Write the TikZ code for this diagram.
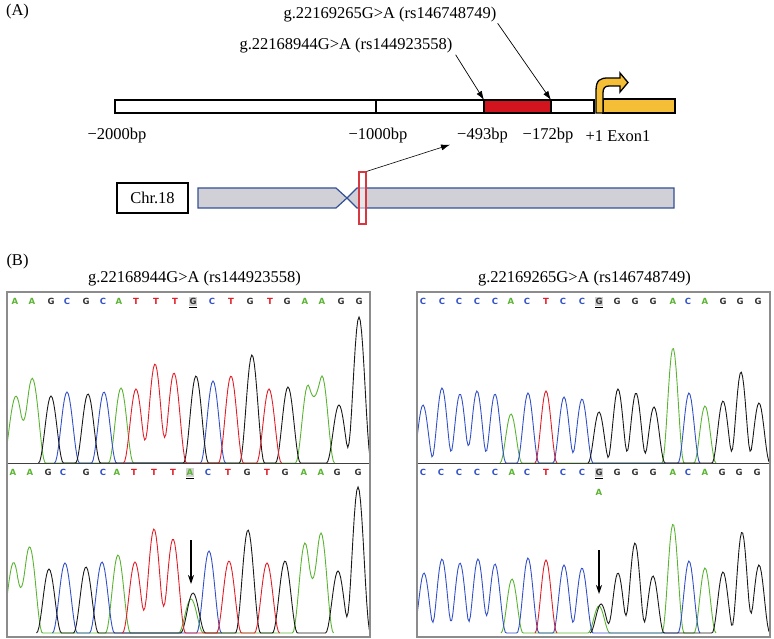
\documentclass[tikz,border=0pt]{standalone}
\usepackage{fontspec}
\setmainfont{Liberation Serif}
\newfontfamily\basefont{DejaVu Sans}
\usetikzlibrary{arrows.meta}

\definecolor{traceA}{RGB}{90,180,50}
\definecolor{traceC}{RGB}{50,80,200}
\definecolor{traceG}{RGB}{25,25,25}
\definecolor{traceT}{RGB}{225,30,40}
\definecolor{chrfill}{RGB}{208,208,214}
\definecolor{chrline}{RGB}{50,80,150}
\definecolor{exon}{RGB}{245,190,55}
\definecolor{promoter}{RGB}{210,20,30}

% one coloured trace of a chromatogram: [peak width]{baseline}{colour}{centre/height,...}
\newcommand\chromtrace[4][12.5]{%
  \pgfmathsetmacro\tk{180/#1}%
  \gdef\tsum{0}\gdef\tlo{1000}\gdef\thi{0}%
  \foreach \c/\h in {#4}{%
    \xdef\tsum{\unexpanded\expandafter{\tsum}+\h*(1+cos(min(abs(\noexpand\x-\c),#1)*\tk))/2}%
    \pgfmathsetmacro\tmp{min(\tlo,\c-#1)}\xdef\tlo{\tmp}%
    \pgfmathsetmacro\tmp{max(\thi,\c+#1)}\xdef\thi{\tmp}%
  }%
  \pgfmathtruncatemacro\tn{(\thi-\tlo)/1.25+2}%
  \draw[#3, line width=0.9pt] plot[domain=\tlo:\thi, samples=\tn] (\x,{#2-(\tsum)});
}
% a row of base letters: {name prefix}{y}{x/base,...}
\newcommand\ntrow[3]{%
  \foreach \p/\b in {#3} \node[nt\b] (#1\p) at (\p,#2) {\b};
}

\begin{document}
\begin{tikzpicture}[x=1pt, y=-1pt,
    every node/.style={font=\fontsize{16.5}{19}\selectfont, inner sep=1pt},
    arr/.style={-{Latex[length=9pt,width=6pt]}, line width=0.7pt},
    barbox/.style={draw, line width=1.6pt},
    chrarm/.style={draw=chrline, fill=chrfill, line width=1.2pt},
    win/.style={draw=promoter!85, line width=1.2pt, fill=white, fill opacity=0.5,
      minimum width=7pt, minimum height=52pt, inner sep=0pt},
    panel/.style={draw=black!45, line width=1.4pt},
    seam/.style={draw=black!75, line width=0.8pt},
    ntbase/.style={font=\basefont\bfseries\fontsize{8.5}{10}\selectfont, inner sep=0.5pt},
    ntA/.style={ntbase, text=traceA},
    ntC/.style={ntbase, text=traceC},
    ntG/.style={ntbase, text=black!80},
    ntT/.style={ntbase, text=traceT},
    hlbox/.style={fill=black!18, minimum width=8pt, minimum height=9pt, inner sep=0pt},
    uline/.style={line width=1.4pt},
    mut/.style={-{Stealth[length=9pt,width=6pt]}, line width=1.3pt}]
  \useasboundingbox (0,0) rectangle (774,639);

  % (A) promoter
  \node (labA) at (17.5,12) {(A)};
  \node (snp2) at (390,14.5) {g.22169265G>A (rs146748749)};
  \node (snp1) at (346,46) {g.22168944G>A (rs144923558)};

  \draw[barbox, fill=white] (115,100) rectangle (594,113);
  \draw[barbox] (376,100) -- (376,113);
  \draw[barbox, fill=promoter] (484,100) rectangle (551,113);
  \coordinate (p493) at (484,100);
  \coordinate (p172) at (551,100);
  \draw[barbox, fill=exon] (603,99) rectangle (675,113);
  \draw[barbox, fill=exon, line width=1.3pt] (596,113) -- (596,91)
    .. controls (596,80) and (600,78) .. (608,78) -- (620,78) -- (620,73)
    -- (628,82.5) -- (620,92) -- (620,86) -- (609,86)
    .. controls (605,86) and (603,88) .. (603,93) -- (603,113) -- cycle;

  \draw[arr] ([xshift=2pt]snp1.south east) -- (p493);
  \draw[arr] (snp2.south east) -- (p172);

  \node (t2000) at (117,136) {−2000bp};
  \node (t1000) at (378,136) {−1000bp};
  \node (t493) at (482.5,136) {−493bp};
  \node (t172) at (548,136) {−172bp};
  \node (tex) at (618,136) {+1 Exon1};

  % chromosome 18
  \node[draw, line width=1.1pt, minimum width=71pt, minimum height=30pt] (chr) at (152.5,198) {Chr.18};
  \draw[chrarm] (198,188) -- (336,188) -- (347,198) -- (336,208) -- (198,208) -- cycle;
  \draw[chrarm] (357,188) -- (674,188) -- (674,208) -- (357,208) -- (347,198) -- cycle;
  \node[win] (win) at (362.5,198) {};
  \draw[arr, line width=0.6pt] (win.north east) -- ([xshift=-6pt]t493.south west);

  % (B) sequencing
  \node (labB) at (17.5,262) {(B)};
  \node (ttl1) at (194.5,279) {g.22168944G>A (rs144923558)};
  \node (ttl2) at (584.5,279) {g.22169265G>A (rs146748749)};

  \begin{scope}
    \clip (7,292) rectangle (370,637);
    \chromtrace{463}{traceA}{15/63,24/17,33/81,121/75,308/78,322/87}
    \chromtrace{463}{traceC}{67/71,104/71,213/82}
    \chromtrace{463}{traceG}{51/67,88/69,196/87,252/108,288/76,339/58,359/146}
    \chromtrace{463}{traceT}{136/74,155/99,174/90,231/87,269/74}
    \draw[seam] (7,463) -- (370,463);
    \chromtrace{633}{traceA}{13/67,21/11,30/84,118/78,191/34,305/90,321/100}
    \chromtrace{633}{traceC}{65/70,102/71,209/82}
    \chromtrace{633}{traceG}{49/64,86/66,193/40,248/103,285/72,338/62,358/146}
    \chromtrace{633}{traceT}{135/71,154/104,173/94,229/72,267/70}
  \end{scope}
  \draw[panel] (7,292) rectangle (370,637);
  \node[hlbox] (hl1) at (193,301) {};
  \draw[uline] ([yshift=-2pt]hl1.south west) -- ([yshift=-2pt]hl1.south east);
  \node[hlbox] (hl2) at (190,472) {};
  \draw[uline] ([yshift=-2pt]hl2.south west) -- ([yshift=-2pt]hl2.south east);
  \ntrow{la}{301}{15/A,32/A,51/G,67/C,86/G,103/C,119/A,136/T,156/T,175/T,193/G,212/C,231/T,250/G,270/T,287/G,305/A,322/A,341/G,359/G}
  \ntrow{lb}{472}{13/A,30/A,48/G,63/C,86/G,103/C,117/A,134/T,154/T,173/T,190/A,208/C,228/T,247/G,267/T,285/G,304/A,321/A,337/G,358/G}
  \coordinate (m1a) at (191,540);
  \coordinate (m1b) at (191,584);
  \draw[mut] (m1a) -- (m1b);

  \begin{scope}
    \clip (417,292) rectangle (770,637);
    \chromtrace[11]{463}{traceA}{511/49,673/115,705/57}
    \chromtrace[11]{463}{traceC}{423/58,442/75,460/69,477/72,495/69,528/70,564/66,582/64,689/70}
    \chromtrace[11]{463}{traceG}{599/51,618/74,636/70,654/56,723/62,741/91,759/60}
    \chromtrace[11]{463}{traceT}{546/72}
    \draw[seam] (417,463) -- (770,463);
    \chromtrace[11]{633}{traceA}{512/54,599/27,673/109,705/65}
    \chromtrace[11]{633}{traceC}{424/60,442/74,460/70,478/74,495/69,528/75,564/68,582/65,689/72}
    \chromtrace[11]{633}{traceG}{601/29,618/60,635/90,653/57,723/61,742/101,759/68}
    \chromtrace[11]{633}{traceT}{546/73}
  \end{scope}
  \draw[panel] (417,292) rectangle (770,637);
  \node[hlbox] (hl3) at (599,301) {};
  \draw[uline] ([yshift=-2pt]hl3.south west) -- ([yshift=-2pt]hl3.south east);
  \node[hlbox] (hl4) at (599,472) {};
  \draw[uline] ([yshift=-2pt]hl4.south west) -- ([yshift=-2pt]hl4.south east);
  \ntrow{ra}{301}{423/C,442/C,459/C,477/C,495/C,511/A,527/C,546/T,563/C,582/C,599/G,617/G,635/G,653/G,673/A,688/C,705/A,723/G,740/G,758/G}
  \ntrow{rb}{472}{423/C,441/C,459/C,477/C,495/C,512/A,527/C,546/T,563/C,582/C,599/G,617/G,635/G,653/G,673/A,688/C,705/A,722/G,739/G,757/G}
  \node[ntA] (alt) at (599,492) {A};
  \coordinate (m2a) at (599,550);
  \coordinate (m2b) at (599,594);
  \draw[mut] (m2a) -- (m2b);
\end{tikzpicture}
\end{document}
